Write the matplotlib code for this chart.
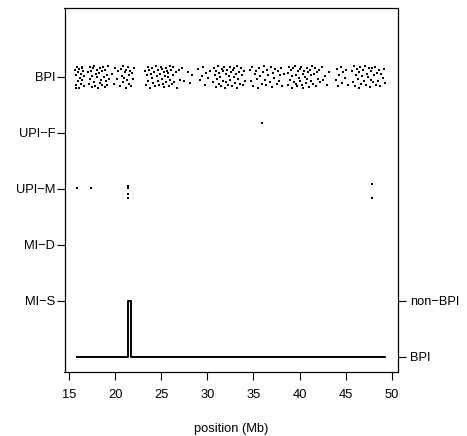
import numpy as np
import matplotlib
matplotlib.use("Agg")
import matplotlib.pyplot as plt

plt.rcParams['font.family'] = ['Liberation Sans', 'DejaVu Sans']

# row labels (left axis) and state labels (right axis)
row_labels = ["MI\u2212S", "MI\u2212D", "UPI\u2212M", "UPI\u2212F", "BPI"]
row_pos = [1, 2, 3, 4, 5]
state_labels = ["BPI", "non\u2212BPI"]
state_pos = [0, 1]
x_ticks = [15, 20, 25, 30, 35, 40, 45, 50]

# informative markers classed as BPI (position in Mb, vertical jitter)
bpi_pos = np.array(
    [15.62, 15.70, 15.75, 15.81, 15.88, 15.93, 16.01, 16.05, 16.12, 16.20, 16.26, 16.31, 16.40, 16.47, 16.55, 16.62, 15.66, 16.35]
    + [17.02, 17.10, 17.18, 17.25, 17.33, 17.41, 17.47, 17.56, 17.63, 17.72, 17.80, 17.86, 17.95, 18.03, 18.10, 18.18, 18.27, 18.33,
       18.42, 18.50, 18.58, 18.66, 18.74, 18.81, 18.90, 18.97, 19.06, 19.13, 19.22, 19.34]
    + [19.62, 19.80, 19.95, 20.14, 20.28]
    + [20.52, 20.60, 20.69, 20.77, 20.85, 20.94, 21.02, 21.10, 21.18, 21.27, 21.35, 21.43, 21.52, 21.60, 21.71, 21.80, 21.92, 22.05]
    + [23.22, 23.30, 23.41, 23.50, 23.58, 23.67, 23.76, 23.85, 23.94, 24.02, 24.12, 24.20, 24.31, 24.40, 24.48, 24.57, 24.66, 24.75,
       24.83, 24.92, 25.01, 25.08, 25.15, 25.22, 25.30, 25.37, 25.44, 25.51, 25.58, 25.66, 25.73, 25.80, 25.88, 25.95, 26.03, 26.11,
       26.20, 26.30, 26.41, 26.55, 26.70, 26.86, 27.05, 27.25, 27.48]
    + [27.92, 28.10, 28.28]
    + [29.02, 29.18, 29.35, 29.52, 29.70, 29.88, 30.06, 30.25]
    + [30.62, 30.70, 30.79, 30.88, 30.96, 31.05, 31.13, 31.21, 31.30, 31.38, 31.47, 31.55, 31.64, 31.72, 31.81, 31.89, 31.98, 32.06,
       32.15, 32.23, 32.32, 32.40, 32.49, 32.57, 32.66, 32.74, 32.83, 32.91, 33.00, 33.08, 33.17, 33.25, 33.34, 33.42, 33.51, 33.60,
       33.70, 33.82, 33.95, 34.08]
    + [34.62, 34.75, 34.88, 35.00, 35.12, 35.25, 35.38, 35.50, 35.62, 35.75, 35.87, 36.00, 36.12, 36.25, 36.37, 36.50, 36.62, 36.74,
       36.87, 37.00, 37.12, 37.25, 37.37, 37.50, 37.62, 37.75, 37.88, 38.00, 38.14, 38.30]
    + [38.72, 38.80, 38.88, 38.97, 39.05, 39.14, 39.22, 39.31, 39.40, 39.48, 39.57, 39.65, 39.74, 39.82, 39.91, 40.00, 40.08, 40.17,
       40.25, 40.34, 40.42, 40.51, 40.60, 40.68, 40.77, 40.85, 40.94, 41.03, 41.11, 41.20, 41.28, 41.37, 41.46, 41.55, 41.65, 41.76,
       41.88, 42.00, 42.14, 42.28, 42.43, 42.58, 42.75, 42.95, 43.20]
    + [43.92, 44.06, 44.20, 44.34, 44.48, 44.62, 44.77, 44.92, 45.08, 45.25]
    + [45.72, 45.82, 45.92, 46.02, 46.12, 46.22, 46.32, 46.42, 46.52, 46.62, 46.72, 46.82, 46.92, 47.02, 47.12, 47.22, 47.32, 47.42,
       47.52, 47.62, 47.72, 47.82, 47.92, 48.02, 48.12, 48.22, 48.33, 48.44, 48.55, 48.66, 48.78, 48.90, 49.02, 49.15, 49.28]
)
bpi_jit = np.array(
    [0.12, -0.15, 0.03, 0.17, -0.08, 0.09, -0.19, 0.14, -0.02, 0.06, -0.12, 0.18, -0.05, 0.10, -0.17, 0.01, -0.20, 0.15]
    + [0.08, -0.13, 0.18, -0.04, 0.11, -0.18, 0.02, 0.15, -0.09, 0.19, -0.16, 0.05, -0.01, 0.13, -0.20, 0.07, -0.11, 0.16,
       -0.06, 0.10, -0.14, 0.17, 0.00, -0.18, 0.12, -0.07, 0.04, -0.15, 0.19, -0.03]
    + [0.06, -0.12, 0.16, -0.04, 0.10]
    + [-0.17, 0.14, 0.02, -0.09, 0.19, -0.02, 0.09, -0.19, 0.12, -0.06, 0.17, -0.13, 0.04, 0.11, -0.16, 0.07, -0.03, 0.15]
    + [0.10, -0.14, 0.03, 0.17, -0.07, 0.13, -0.19, 0.06, -0.02, 0.15, -0.11, 0.08, -0.17, 0.19, 0.01, -0.08, 0.12, -0.15,
       0.05, 0.18, -0.04, 0.14, -0.12, 0.09, -0.18, 0.02, 0.16, -0.09, 0.11, -0.01, 0.07, -0.16, 0.20, -0.06, 0.13, -0.13,
       0.04, 0.17, -0.10, 0.08, -0.19, 0.12, -0.05, 0.15, -0.08]
    + [0.09, -0.11, 0.03]
    + [0.14, -0.06, 0.02, 0.18, -0.15, 0.07, -0.02, 0.11]
    + [-0.10, 0.16, 0.04, -0.18, 0.11, -0.03, 0.19, -0.13, 0.07, 0.00, -0.16, 0.14, -0.07, 0.10, 0.18, -0.20, 0.05, -0.09,
       0.13, -0.14, 0.02, 0.17, -0.05, 0.09, -0.17, 0.12, -0.01, 0.15, -0.11, 0.06, -0.19, 0.20, -0.04, 0.08, -0.12, 0.16,
       0.03, -0.15, 0.11, -0.07]
    + [0.13, -0.08, 0.18, -0.16, 0.05, 0.10, -0.03, -0.19, 0.15, 0.01, -0.12, 0.08, 0.19, -0.06, -0.15, 0.12, 0.04, -0.10,
       0.17, -0.18, 0.07, -0.02, 0.14, -0.13, 0.10, -0.07, 0.03, 0.16, -0.17, 0.06]
    + [0.07, -0.14, 0.17, -0.05, 0.12, -0.19, 0.02, 0.15, -0.09, 0.19, -0.12, 0.04, -0.17, 0.10, -0.02, 0.14, -0.07, 0.18,
       -0.15, 0.06, -0.20, 0.11, 0.00, -0.11, 0.16, -0.04, 0.09, -0.18, 0.13, 0.03, -0.08, 0.20, -0.13, 0.05, 0.15, -0.16,
       0.08, -0.03, 0.12, -0.10, 0.17, -0.06, 0.01, -0.14, 0.09]
    + [-0.06, 0.14, -0.17, 0.03, 0.18, -0.11, 0.08, -0.02, 0.12, -0.15]
    + [0.11, -0.09, 0.19, -0.16, 0.04, 0.14, -0.03, -0.19, 0.08, 0.17, -0.12, 0.01, 0.13, -0.07, 0.19, -0.14, 0.06, -0.01,
       0.16, -0.18, 0.10, -0.05, 0.15, -0.10, 0.03, 0.18, -0.15, 0.07, -0.08, 0.12, -0.17, 0.05, -0.02, 0.14, -0.11]
)

# other marker classes
upif_pos = [35.9]
upif_jit = [0.18]
upim_pos = [15.8, 17.3, 21.36, 21.36, 21.36, 21.36, 47.9, 47.9]
upim_jit = [0.02, 0.02, 0.05, 0.01, -0.09, -0.17, 0.08, -0.16]

# inferred BPI / non-BPI state along the chromosome (step function)
state_x = [15.78, 21.36, 21.72, 49.30]
state_y = [0, 1, 0, 0]

fig = plt.figure(figsize=(4.67, 4.36), dpi=100)
ax = fig.add_axes([64.5 / 467, 1 - 372 / 436, 333 / 467, 364 / 436])

ax.scatter(bpi_pos, 5 + bpi_jit, s=3.2, marker='s', c='black', linewidths=0)
ax.scatter(upif_pos, 4 + np.array(upif_jit), s=3.2, marker='s', c='black', linewidths=0)
ax.scatter(upim_pos, 3 + np.array(upim_jit), s=3.2, marker='s', c='black', linewidths=0)

ax.step(state_x, state_y, where='post', color='black', lw=1.4)

ax.set_xlim(14.46, 50.65)
ax.set_ylim(-0.27, 6.23)

fs = 9.3
ax.set_xticks(x_ticks)
ax.set_yticks(row_pos)
ax.set_yticklabels(row_labels)
ax.tick_params(direction='out', length=5.8, width=0.8, labelsize=fs)
ax.tick_params(axis='x', pad=6.5)
ax.tick_params(axis='y', pad=1.0)
ax.set_xlabel("position (Mb)", fontsize=fs, labelpad=16)

ax2 = ax.twinx()
ax2.set_ylim(ax.get_ylim())
ax2.set_yticks(state_pos)
ax2.set_yticklabels(state_labels)
ax2.tick_params(direction='out', length=5.8, width=0.8, labelsize=fs, pad=3.5)

for a in (ax, ax2):
    for sp in a.spines.values():
        sp.set_linewidth(0.8)

fig.savefig("out.png", dpi=100)
